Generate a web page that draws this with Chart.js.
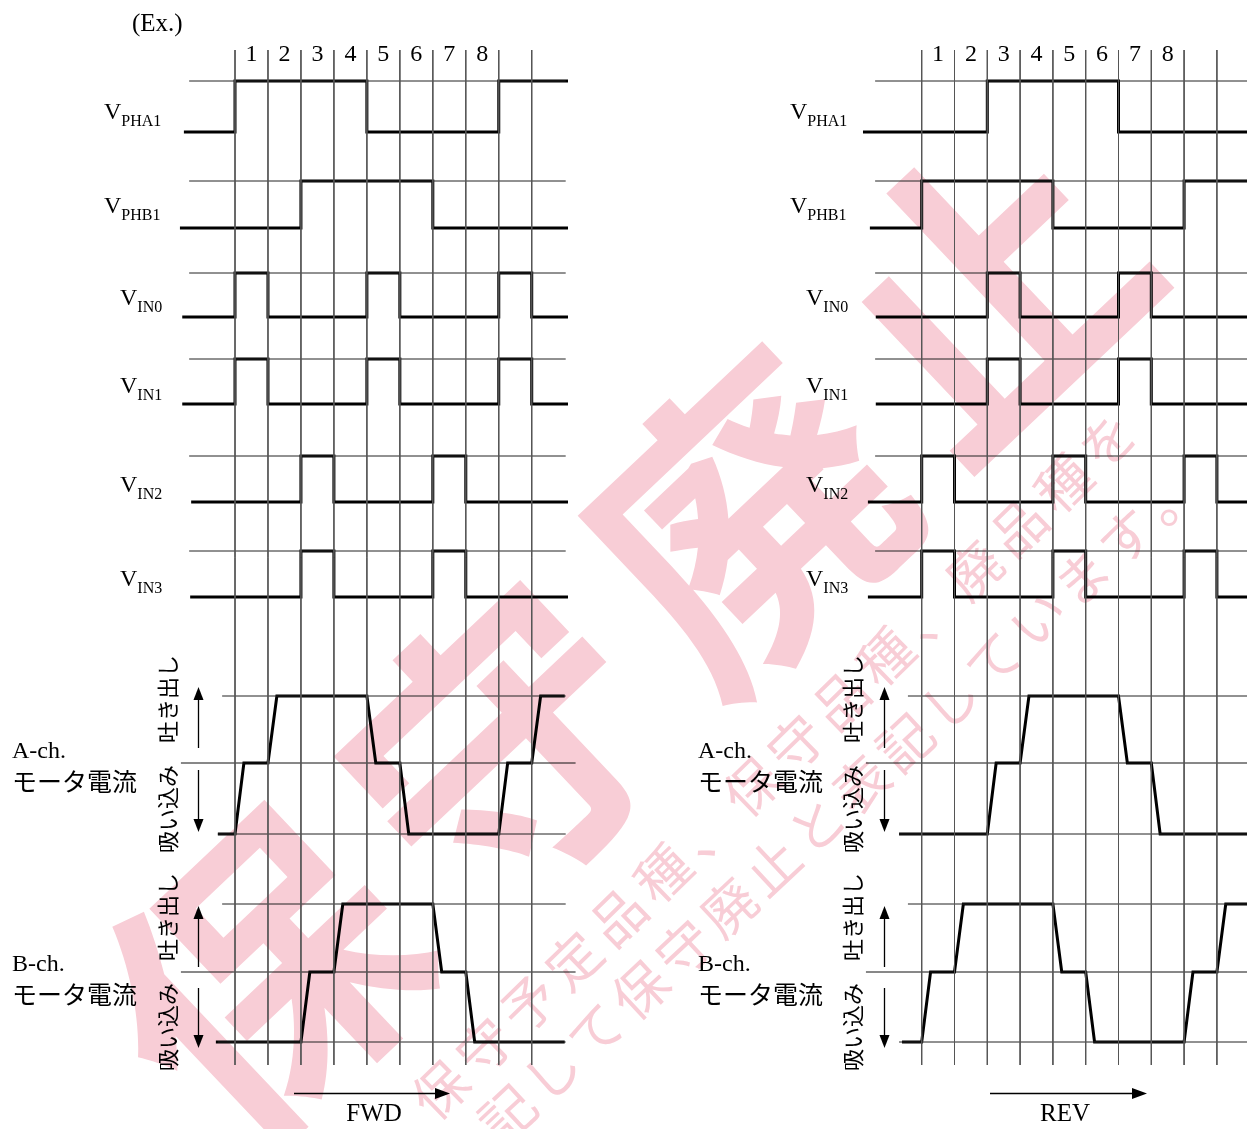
<!DOCTYPE html>
<html>
<head>
<meta charset="utf-8">
<title>Timing chart</title>
<script src="https://cdn.jsdelivr.net/npm/chart.js@4.4.1/dist/chart.umd.min.js"></script>
<style>
  html, body { margin: 0; padding: 0; background: #fff; }
  #wrap { width: 1247px; height: 1129px; }
</style>
</head>
<body>
<div id="wrap"><canvas id="timing" width="1247" height="1129"></canvas></div>
<script>
// ---- data ----
const colLabels = ['1', '2', '3', '4', '5', '6', '7', '8'];
const sigNames = ['PHA1', 'PHB1', 'IN0', 'IN1', 'IN2', 'IN3'];
const chNames = ['A-ch.', 'B-ch.'];
const currentLabel = 'モータ電流';
const dirNote = '吸い込み　吐き出し';
const dirNames = ['FWD', 'REV'];

// level in each segment: before col 1, col 1 ... col 9, after col 9
const fwdPHA1 = [0, 1, 1, 1, 1, 0, 0, 0, 0, 1, 1];
const fwdPHB1 = [0, 0, 0, 1, 1, 1, 1, 0, 0, 0, 0];
const fwdIN0  = [0, 1, 0, 0, 0, 1, 0, 0, 0, 1, 0];
const fwdIN1  = [0, 1, 0, 0, 0, 1, 0, 0, 0, 1, 0];
const fwdIN2  = [0, 0, 0, 1, 0, 0, 0, 1, 0, 0, 0];
const fwdIN3  = [0, 0, 0, 1, 0, 0, 0, 1, 0, 0, 0];
// motor current: 1 = source (吐き出し), 0 = zero, -1 = sink (吸い込み)
const fwdIA   = [-1, 0, 1, 1, 1, 0, -1, -1, -1, 0, 1];
const fwdIB   = [-1, -1, -1, 0, 1, 1, 1, 0, -1, -1, -1];

const revPHA1 = [0, 0, 0, 1, 1, 1, 1, 0, 0, 0, 0];
const revPHB1 = [0, 1, 1, 1, 1, 0, 0, 0, 0, 1, 1];
const revIN0  = [0, 0, 0, 1, 0, 0, 0, 1, 0, 0, 0];
const revIN1  = [0, 0, 0, 1, 0, 0, 0, 1, 0, 0, 0];
const revIN2  = [0, 1, 0, 0, 0, 1, 0, 0, 0, 1, 0];
const revIN3  = [0, 1, 0, 0, 0, 1, 0, 0, 0, 1, 0];
const revIA   = [-1, -1, -1, 0, 1, 1, 1, 0, -1, -1, -1];
const revIB   = [-1, 0, 1, 1, 1, 0, -1, -1, -1, 0, 1];

const watermarkBig = '保守廃止';
const watermarkLine1 = '保守予定品種、保守品種、廃品種を';
const watermarkLine2 = '注記して保守廃止と表記しています。';

// ---- layout ----
const W = 1247, H = 1129;
const RAMP = 0.27;   // current transition width, in columns

const sigRows = [
  { hi: 81,  lo: 132, vy: 119 },
  { hi: 181, lo: 228, vy: 213 },
  { hi: 273, lo: 317, vy: 305 },
  { hi: 359, lo: 404, vy: 393 },
  { hi: 456, lo: 502, vy: 492 },
  { hi: 551, lo: 597, vy: 586 }
];
const curRows = [
  { top: 696, mid: 763, bot: 834, chY: 758, jpY: 781, noteY: 754, up: [687, 748], down: [770, 832] },
  { top: 904, mid: 972, bot: 1042, chY: 971, jpY: 994, noteY: 972, up: [906, 967], down: [988, 1048] }
];

const panels = [
  {
    axis: 'xL', sig: [fwdPHA1, fwdPHB1, fwdIN0, fwdIN1, fwdIN2, fwdIN3], cur: [fwdIA, fwdIB],
    vx: [104, 104, 120, 120, 120, 120],
    digStart: [-1.55, -1.67, -1.6, -1.6, -1.33, -1.36], digEnd: 10.1,
    refStart: -1.39, refEnd: 10.03,
    curStart: [-0.52, -0.58], curEnd: 10.0,
    topStart: -0.39, botStart: -0.52, midStart: -1.64, thinEnd: 10.03, midEnd: 10.33,
    chX: 12, noteX: 167.5, arrowX: 198.5, dirLine: [294, 450], dirX: 374
  },
  {
    axis: 'xR', sig: [revPHA1, revPHB1, revIN0, revIN1, revIN2, revIN3], cur: [revIA, revIB],
    vx: [790, 790, 806, 806, 806, 806],
    digStart: [-1.79, -1.58, -1.4, -1.4, -1.64, -1.64], digEnd: 10.3,
    refStart: -1.42, refEnd: 10.3,
    curStart: [-0.69, -0.6], curEnd: 10.3,
    topStart: -0.42, botStart: -0.69, midStart: -1.7, thinEnd: 10.3, midEnd: 10.3,
    chX: 698, noteX: 852.5, arrowX: 884.5, dirLine: [990, 1147], dirX: 1065
  }
];

// turn segment levels into corner points
function stepPoints(levels, x0, x1, ramp) {
  const pts = [{ x: x0, l: levels[0] }];
  for (let k = 0; k < levels.length - 1; k++) {
    if (levels[k + 1] !== levels[k]) {
      pts.push({ x: k, l: levels[k] });
      pts.push({ x: k + ramp, l: levels[k + 1] });
    }
  }
  pts.push({ x: x1, l: levels[levels.length - 1] });
  return pts;
}

function lineDs(axis, data, width, color) {
  return {
    xAxisID: axis, yAxisID: 'y', data: data,
    showLine: true, borderColor: color, borderWidth: width,
    pointRadius: 0, fill: false, tension: 0,
    borderJoinStyle: 'miter', borderCapStyle: 'butt'
  };
}

const datasets = [];
panels.forEach(p => {
  for (let k = 0; k <= 9; k++) {
    datasets.push(lineDs(p.axis, [{ x: k, y: 50 }, { x: k, y: 1065 }], 1, '#555'));
  }
  sigRows.forEach(r => {
    datasets.push(lineDs(p.axis, [{ x: p.refStart, y: r.hi }, { x: p.refEnd, y: r.hi }], 1, '#222'));
  });
  curRows.forEach(r => {
    datasets.push(lineDs(p.axis, [{ x: p.topStart, y: r.top }, { x: p.thinEnd, y: r.top }], 1, '#222'));
    datasets.push(lineDs(p.axis, [{ x: p.midStart, y: r.mid }, { x: p.midEnd, y: r.mid }], 1, '#111'));
    datasets.push(lineDs(p.axis, [{ x: p.botStart, y: r.bot }, { x: p.thinEnd, y: r.bot }], 1, '#222'));
  });
});
panels.forEach(p => {
  sigRows.forEach((r, i) => {
    const pts = stepPoints(p.sig[i], p.digStart[i], p.digEnd, 0)
      .map(q => ({ x: q.x, y: r.lo - q.l * (r.lo - r.hi) }));
    datasets.push(lineDs(p.axis, pts, 3, '#000'));
  });
  curRows.forEach((r, i) => {
    const pts = stepPoints(p.cur[i], p.curStart[i], p.curEnd, RAMP)
      .map(q => ({ x: q.x, y: q.l >= 0 ? r.mid - q.l * (r.mid - r.top) : r.mid - q.l * (r.bot - r.mid) }));
    datasets.push(lineDs(p.axis, pts, 3, '#000'));
  });
});

const serif = '"Liberation Serif", "Times New Roman", serif';
const jp = '"Noto Sans CJK JP", sans-serif';

function charsAlong(ctx, text, x0, y0, dx, dy, font) {
  const ang = Math.atan2(dy, dx);
  ctx.font = font;
  ctx.textAlign = 'center';
  ctx.textBaseline = 'middle';
  [...text].forEach((ch, i) => {
    ctx.save();
    ctx.translate(x0 + i * dx, y0 + i * dy);
    ctx.rotate(ang);
    ctx.fillText(ch, 0, 0);
    ctx.restore();
  });
}

const watermark = {
  id: 'watermark',
  beforeDatasetsDraw(chart) {
    const ctx = chart.ctx;
    ctx.save();
    ctx.fillStyle = 'rgb(248, 205, 214)';
    charsAlong(ctx, watermarkBig, 262, 978, 242, -229, 'bold 300px ' + jp);
    charsAlong(ctx, watermarkLine1, 440, 1090, 44.5, -43.3, '54px ' + jp);
    charsAlong(ctx, watermarkLine2, 640 - 4 * 44.2, 990 + 4 * 41.25, 44.2, -41.25, '54px ' + jp);
    ctx.restore();
  }
};

function arrowHead(ctx, x, y, dir) {
  // dir: 'up', 'down', 'right'
  ctx.beginPath();
  if (dir === 'up') { ctx.moveTo(x, y); ctx.lineTo(x - 5, y + 13); ctx.lineTo(x + 5, y + 13); }
  else if (dir === 'down') { ctx.moveTo(x, y); ctx.lineTo(x - 5, y - 13); ctx.lineTo(x + 5, y - 13); }
  else { ctx.moveTo(x, y); ctx.lineTo(x - 15, y - 5.5); ctx.lineTo(x - 15, y + 5.5); }
  ctx.closePath();
  ctx.fill();
}

const labels = {
  id: 'labels',
  afterDraw(chart) {
    const ctx = chart.ctx;
    ctx.save();
    ctx.fillStyle = '#000';
    ctx.strokeStyle = '#000';

    ctx.font = '25px ' + serif;
    ctx.textAlign = 'left';
    ctx.textBaseline = 'alphabetic';
    ctx.fillText('(Ex.)', 132, 31);

    panels.forEach((p, pi) => {
      const xs = chart.scales[p.axis];
      // column numbers
      ctx.font = '24px ' + serif;
      ctx.textAlign = 'center';
      ctx.textBaseline = 'alphabetic';
      colLabels.forEach((c, k) => ctx.fillText(c, xs.getPixelForValue(k + 0.5), 61));

      // signal names V with subscript
      sigRows.forEach((r, i) => {
        ctx.textAlign = 'left';
        ctx.font = '24px ' + serif;
        ctx.fillText('V', p.vx[i], r.vy);
        const w = ctx.measureText('V').width;
        ctx.font = '16px ' + serif;
        ctx.fillText(sigNames[i], p.vx[i] + w, r.vy + 7);
      });

      // motor current labels
      curRows.forEach((r, i) => {
        ctx.textAlign = 'left';
        ctx.textBaseline = 'alphabetic';
        ctx.font = '24px ' + serif;
        ctx.fillText(chNames[i], p.chX, r.chY);
        ctx.font = '25px ' + jp;
        ctx.textBaseline = 'middle';
        ctx.fillText(currentLabel, p.chX, r.jpY);

        ctx.save();
        ctx.translate(p.noteX, r.noteY);
        ctx.rotate(-Math.PI / 2);
        ctx.font = '22px ' + jp;
        ctx.textAlign = 'center';
        ctx.textBaseline = 'middle';
        ctx.fillText(dirNote, 0, 0);
        ctx.restore();

        ctx.lineWidth = 1.3;
        ctx.beginPath();
        ctx.moveTo(p.arrowX, r.up[1]); ctx.lineTo(p.arrowX, r.up[0] + 10);
        ctx.moveTo(p.arrowX, r.down[0]); ctx.lineTo(p.arrowX, r.down[1] - 10);
        ctx.stroke();
        arrowHead(ctx, p.arrowX, r.up[0], 'up');
        arrowHead(ctx, p.arrowX, r.down[1], 'down');
      });

      // direction arrow
      ctx.lineWidth = 1.3;
      ctx.beginPath();
      ctx.moveTo(p.dirLine[0], 1093.5);
      ctx.lineTo(p.dirLine[1] - 10, 1093.5);
      ctx.stroke();
      arrowHead(ctx, p.dirLine[1], 1093.5, 'right');
      ctx.font = '25px ' + serif;
      ctx.textAlign = 'center';
      ctx.textBaseline = 'alphabetic';
      ctx.fillText(dirNames[pi], p.dirX, 1121);
    });
    ctx.restore();
  }
};

new Chart(document.getElementById('timing'), {
  type: 'scatter',
  data: { datasets: datasets },
  options: {
    responsive: false,
    animation: false,
    events: [],
    layout: { padding: 0 },
    plugins: { legend: { display: false }, tooltip: { enabled: false } },
    scales: {
      xL: { type: 'linear', axis: 'x', display: false, min: -235 / 32.97, max: (W - 235) / 32.97 },
      xR: { type: 'linear', axis: 'x', display: false, min: -921.7 / 32.8, max: (W - 921.7) / 32.8 },
      y: { type: 'linear', display: false, min: 0, max: H, reverse: true }
    }
  },
  plugins: [watermark, labels]
});
</script>
</body>
</html>
